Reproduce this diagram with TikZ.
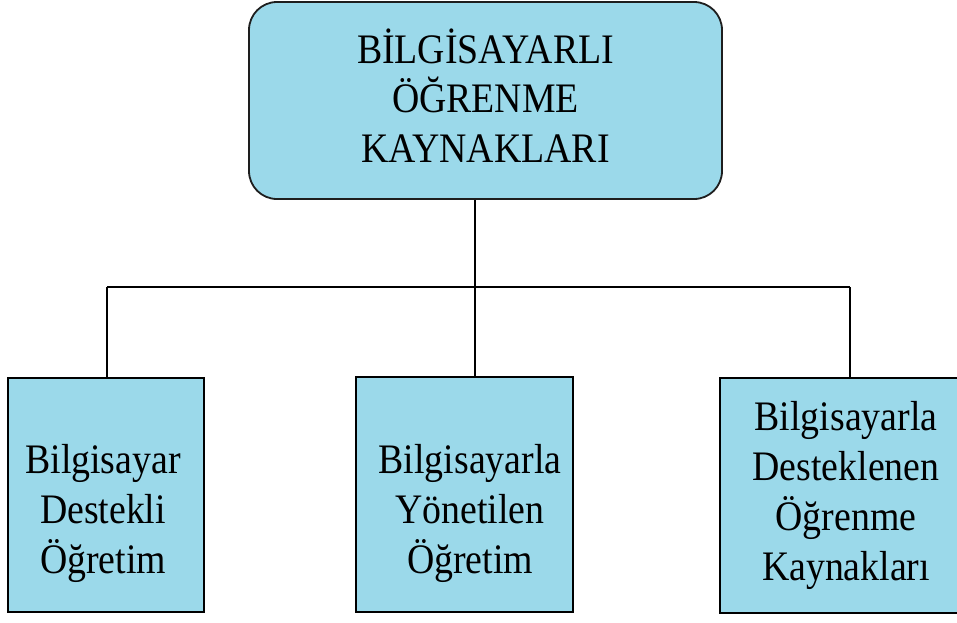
\documentclass[tikz,border=0pt]{standalone}
\usepackage{fontspec}
\setmainfont[FakeStretch=0.9]{Liberation Serif}
\definecolor{boxblue}{RGB}{155,217,234}
\definecolor{edgegray}{RGB}{30,30,30}
\tikzset{
  headbox/.style={draw=edgegray, line width=1.8pt, fill=boxblue, rounded corners=28pt},
  leafbox/.style={draw=black, line width=2.2pt, fill=boxblue},
  headtext/.style={align=center, anchor=base, inner sep=0pt, font=\fontsize{42}{49.5}\selectfont},
  leaftext/.style={align=center, anchor=base, inner sep=0pt, font=\fontsize{42}{49.7}\selectfont},
  link/.style={draw=black, line width=1.8pt}
}
\begin{document}
\begin{tikzpicture}[x=1pt, y=-1pt]
\path[use as bounding box, clip] (0,0) rectangle (957,622);
\fill[white] (0,0) rectangle (957,622);

% boxes
\node[headbox, minimum width=473pt, minimum height=197pt] (top) at (485.5,100.5) {};
\node[leafbox, minimum width=196pt, minimum height=234pt] (left) at (106,495) {};
\node[leafbox, minimum width=217pt, minimum height=235pt] (mid) at (464.5,494.5) {};
\node[leafbox, minimum width=246pt, minimum height=235pt] (right) at (843,495.5) {};

% labels
\node[headtext] (toptext) at (485.5,162) {BİLGİSAYARLI\\ÖĞRENME\\KAYNAKLARI};
\node[leaftext] (lefttext) at (103,573) {Bilgisayar\\Destekli\\Öğretim};
\node[leaftext] (midtext) at (470,573) {Bilgisayarla\\Yönetilen\\Öğretim};
\node[leaftext] (righttext) at (846,580) {Bilgisayarla\\Desteklenen\\Öğrenme\\Kaynakları};

% tree connectors
\coordinate (hub) at (475,287);
\coordinate (lj) at (107,287);
\coordinate (rj) at (850,287);
\draw[link] (hub |- top.south) -- (hub);
\draw[link] (lj) -- (rj);
\draw[link] (lj) -- (lj |- left.north);
\draw[link] (hub) -- (hub |- mid.north);
\draw[link] (rj) -- (rj |- right.north);
\end{tikzpicture}
\end{document}
